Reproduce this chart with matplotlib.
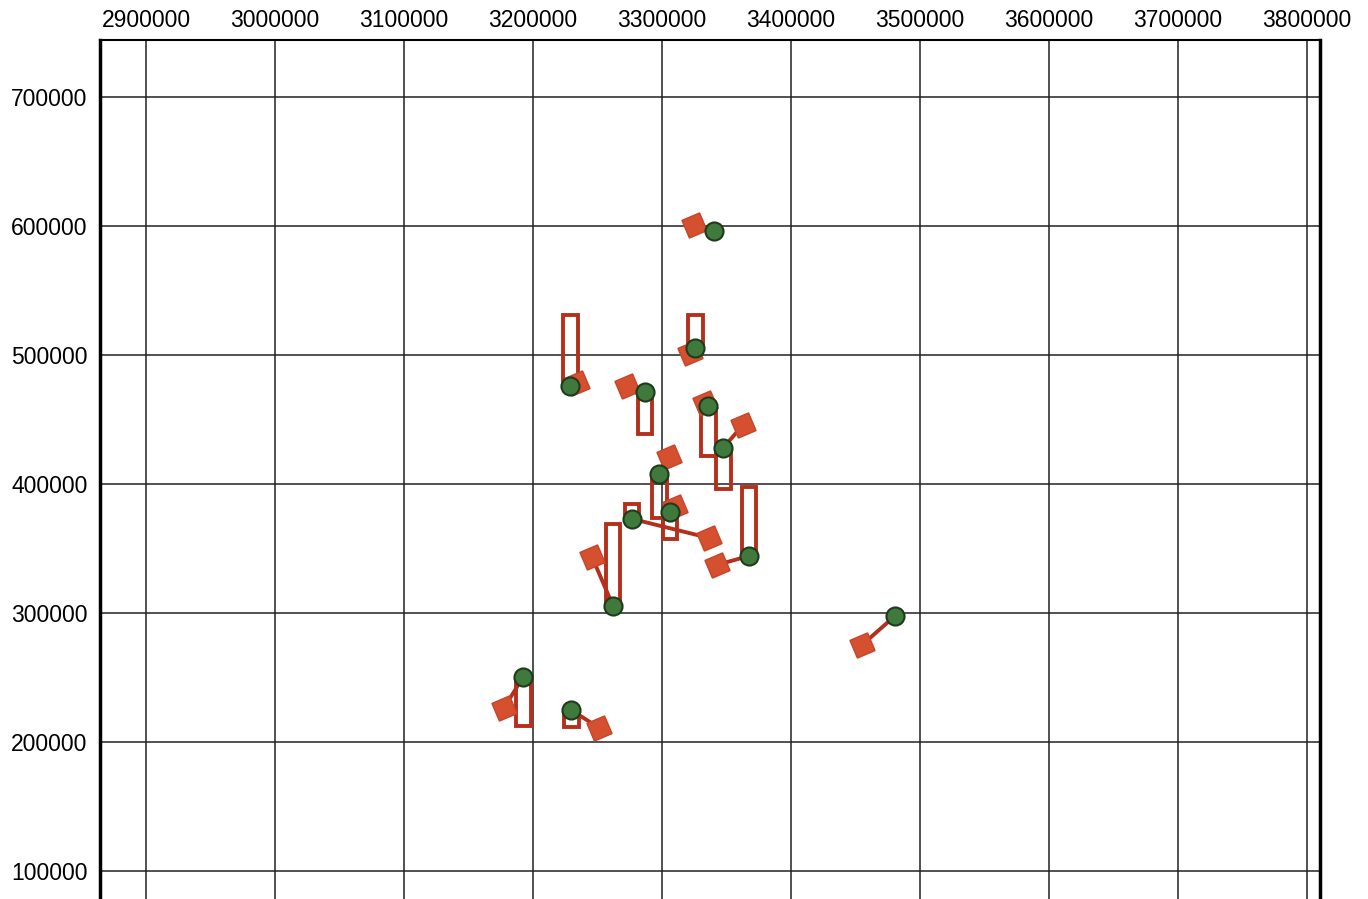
import matplotlib.pyplot as plt
from matplotlib.ticker import FormatStrFormatter
import numpy as np

plt.rcParams['font.family'] = ['Liberation Sans', 'DejaVu Sans']

# station positions (green circles)
circle_x = [3340300, 3228700, 3286800, 3325600, 3335700, 3347300, 3297700,
            3306200, 3276700, 3367400, 3262000, 3480600, 3192300, 3229500]
circle_y = [596100, 476000, 471300, 505400, 460500, 427900, 407800,
            378300, 372900, 344200, 305400, 297700, 250400, 224800]
# shifted positions (red diamonds)
diamond_x = [3324800, 3234100, 3272900, 3321700, 3333300, 3362800, 3305400,
             3310100, 3336400, 3342600, 3245700, 3455000, 3177500, 3251200]
diamond_y = [600800, 478300, 476000, 501600, 462800, 445700, 420900,
             382200, 358100, 337200, 343400, 275200, 226400, 210900]
# far end of the bar drawn from each circle (nan = no bar)
bar_end = [np.nan, 531000, 438800, 531000, 421700, 396100, 373600,
           357400, 384500, 397700, 369000, np.nan, 212400, 211600]

red = '#d4502f'
dark_red = '#b5301c'
green = '#3f7a3c'

fig = plt.figure(figsize=(13.68, 8.99), dpi=100)
ax = fig.add_axes([100/1368, 0.0, 1220/1368, 1 - 40/899])

cx = np.array(circle_x)
cy = np.array(circle_y)
be = np.array(bar_end)
has = ~np.isnan(be)
ax.bar(cx[has], np.abs(be[has] - cy[has]), bottom=np.minimum(be[has], cy[has]),
       width=11500, fill=False, edgecolor=dark_red, linewidth=2.8, zorder=3)

for x0, y0, x1, y1 in zip(circle_x, circle_y, diamond_x, diamond_y):
    ax.plot([x0, x1], [y0, y1], color=dark_red, lw=2.8, zorder=3)

ax.plot(diamond_x, diamond_y, ls='none', marker=(4, 0, 68), ms=19.5,
        color=red, mec='#c8442a', mew=1, zorder=4)
ax.plot(circle_x, circle_y, ls='none', marker='o', ms=13,
        color=green, mec='#1f3a1c', mew=1.5, zorder=5)

ax.set_xlim(2864300, 3810000)
ax.set_ylim(78300, 744000)
ax.set_xticks(np.arange(2900000, 3800001, 100000))
ax.set_yticks(np.arange(100000, 700001, 100000))
ax.xaxis.set_major_formatter(FormatStrFormatter('%d'))
ax.yaxis.set_major_formatter(FormatStrFormatter('%d'))
ax.xaxis.tick_top()
ax.tick_params(length=0, labelsize=16.5)
ax.tick_params(axis='x', pad=6)
ax.tick_params(axis='y', pad=9)
ax.grid(True, color='#222222', lw=1.1)
ax.set_axisbelow(True)

for s in ['left', 'right']:
    ax.spines[s].set_linewidth(2.5)
ax.spines['top'].set_linewidth(1.5)
ax.spines['bottom'].set_visible(False)

plt.savefig('out.png', dpi=100)
